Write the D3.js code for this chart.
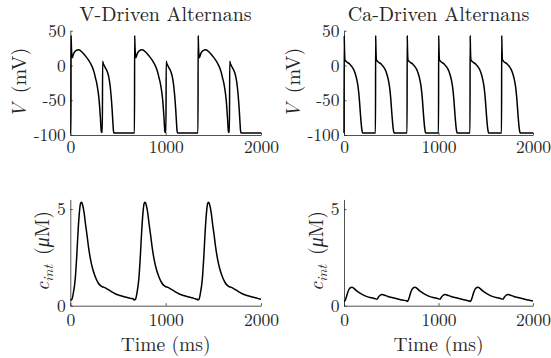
<!DOCTYPE html>
<html>
<head>
<meta charset="utf-8">
<script src="https://cdn.jsdelivr.net/npm/d3@7"></script>
<style>
  body { margin: 0; background: #fff; }
  svg text { font-family: "Latin Modern Roman", "Liberation Serif", serif; fill: #262626; }
  .axis path, .axis line { stroke: #262626; stroke-width: 0.8; }
  .axis text { font-size: 17.5px; }
</style>
</head>
<body>
<div id="wrapper"></div>
<script>
// data
const titles = ["V-Driven Alternans", "Ca-Driven Alternans"]
const timeTicks = [0, 1000, 2000]
const vTicks = [-100, -50, 0, 50]
const cTicks = [0, 5]

// V-driven: one long + one short beat every 667 ms  [ms from cycle start, mV]
const vDrivenStarts = [0, 667, 1333]
const vDrivenV = [
  [0, -97], [6, -97], [8, 43], [12, 25], [20, 11], [35, 17], [55, 21], [88, 22.5],
  [125, 19], [157, 14], [195, 7], [227, -1], [250, -10], [262, -17], [278, -26],
  [290, -36], [300, -47], [308, -60], [316, -76], [322, -90], [326, -96], [336, -96],
  [339, 6], [345, 3], [355, 0], [370, -4], [385, -8], [395, -12], [408, -20],
  [419, -31], [428, -44], [437, -60], [445, -78], [452, -93], [456, -97], [667, -97]
]
// intracellular Ca, V-driven  [ms from cycle start, uM]
const vDrivenCa = [
  [0, 0.3], [15, 0.32], [30, 0.6], [52, 1.4], [68, 2.6], [81, 3.8], [95, 4.8],
  [108, 5.3], [118, 5.35], [130, 5.2], [145, 4.8], [160, 4.2], [175, 3.66],
  [192, 3.0], [210, 2.45], [235, 1.9], [262, 1.5], [290, 1.2], [314, 1.05],
  [335, 0.98], [355, 0.95], [375, 0.9], [402, 0.82], [435, 0.72], [471, 0.62],
  [520, 0.53], [576, 0.45], [630, 0.38], [667, 0.33]
]

// Ca-driven: one beat every 333 ms
const caDrivenStarts = [0, 333, 667, 1000, 1333, 1667]
const caDrivenV = [
  [0, -97], [2, 43], [5, 24], [10, 8], [30, 5], [60, 2], [95, -4], [115, -10],
  [135, -20], [150, -32], [162, -48], [175, -72], [187, -90], [197, -97], [333, -97]
]
// Ca-driven Ca: large/small alternation, 667 ms cycle
const caDrivenCaStarts = [0, 667, 1333]
const caDrivenCa = [
  [0, 0.22], [10, 0.25], [25, 0.45], [40, 0.7], [60, 0.9], [85, 0.95], [105, 0.9],
  [131, 0.78], [165, 0.66], [201, 0.56], [245, 0.47], [289, 0.41], [330, 0.36],
  [350, 0.34], [365, 0.45], [380, 0.53], [400, 0.58], [415, 0.57], [440, 0.52],
  [465, 0.48], [520, 0.41], [571, 0.35], [620, 0.29], [667, 0.24]
]

function repeatCycle(template, starts) {
  const out = []
  starts.forEach(s => template.forEach(([t, v]) => out.push([s + t, v])))
  return out.filter(d => d[0] <= 2000)
}

function drawChart() {
  const width = 551
  const height = 358

  const wrapper = d3.select("#wrapper")
    .append("svg")
      .attr("width", width)
      .attr("height", height)
      .style("background", "#fff")

  const cols = [
    { x0: 70.3, x1: 261 },
    { x0: 344, x1: 533 }
  ]
  const rows = [
    { y0: 135, y1: 30.7, domain: [-100, 50], ticks: vTicks, tickPad: 6 },
    { y0: 305.7, y1: 199.4, domain: [0, 5.5], ticks: cTicks, tickPad: 8 }
  ]

  const panels = [
    { col: 0, row: 0, data: repeatCycle(vDrivenV, vDrivenStarts) },
    { col: 1, row: 0, data: repeatCycle(caDrivenV, caDrivenStarts) },
    { col: 0, row: 1, data: repeatCycle(vDrivenCa, vDrivenStarts) },
    { col: 1, row: 1, data: repeatCycle(caDrivenCa, caDrivenCaStarts) }
  ]

  panels.forEach(p => {
    const c = cols[p.col]
    const r = rows[p.row]
    const xScale = d3.scaleLinear().domain([0, 2000]).range([c.x0, c.x1])
    const yScale = d3.scaleLinear().domain(r.domain).range([r.y0, r.y1])

    const g = wrapper.append("g")

    const xAxis = d3.axisBottom(xScale)
      .tickValues(timeTicks)
      .tickFormat(d => String(d))
      .tickSizeInner(-2.5)
      .tickSizeOuter(0)
      .tickPadding(r.tickPad)
    g.append("g")
      .attr("class", "axis")
      .attr("transform", `translate(0, ${r.y0})`)
      .call(xAxis)

    const yAxis = d3.axisLeft(yScale)
      .tickValues(r.ticks)
      .tickFormat(d => String(d))
      .tickSizeInner(-2.5)
      .tickSizeOuter(0)
      .tickPadding(4.5)
    g.append("g")
      .attr("class", "axis")
      .attr("transform", `translate(${c.x0}, 0)`)
      .call(yAxis)

    // drop d3's sans-serif default so the css font applies
    g.selectAll(".axis").attr("font-family", null).attr("font-size", null)
    g.selectAll(".axis .domain").attr("fill", "none")

    const line = d3.line()
      .x(d => xScale(d[0]))
      .y(d => yScale(d[1]))
      .curve(d3.curveMonotoneX)

    g.append("path")
      .datum(p.data)
      .attr("fill", "none")
      .attr("stroke", "#000")
      .attr("stroke-width", 1.5)
      .attr("stroke-linejoin", "round")
      .attr("d", line)

    const xMid = (c.x0 + c.x1) / 2
    if (p.row === 0) {
      g.append("text")
        .attr("x", xMid)
        .attr("y", 21)
        .attr("text-anchor", "middle")
        .style("font-size", "20px")
        .text(titles[p.col])

      const yl = g.append("text")
        .attr("transform", `translate(${c.x0 - 44}, ${(r.y0 + r.y1) / 2}) rotate(-90)`)
        .attr("text-anchor", "middle")
        .style("font-size", "20px")
      yl.append("tspan").style("font-style", "italic").text("V")
      yl.append("tspan").text("\u00a0(mV)")
    } else {
      g.append("text")
        .attr("x", xMid)
        .attr("y", 350.5)
        .attr("text-anchor", "middle")
        .style("font-size", "19.5px")
        .text("Time (ms)")

      const yl = g.append("text")
        .attr("transform", `translate(${c.x0 - 21}, 251) rotate(-90)`)
        .attr("text-anchor", "middle")
        .style("font-size", "20px")
      yl.append("tspan").style("font-style", "italic").text("c")
      yl.append("tspan").style("font-style", "italic").style("font-size", "14px")
        .attr("dy", 3.5).text("int")
      yl.append("tspan").attr("dy", -3.5).text("\u00a0(")
      yl.append("tspan").style("font-style", "italic").text("μ")
      yl.append("tspan").text("M)")
    }
  })
}

drawChart()
</script>
</body>
</html>
